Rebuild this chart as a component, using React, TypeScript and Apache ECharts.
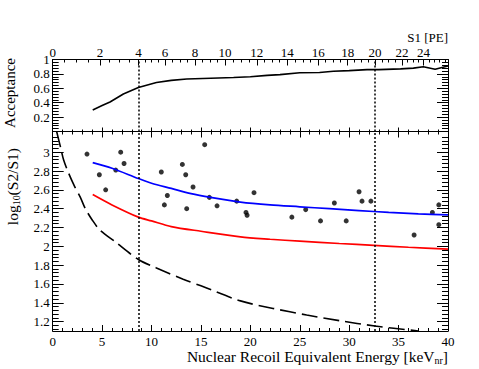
import React, { useEffect, useRef } from 'react';
import * as echarts from 'echarts';

// ---- data (energies in keV_nr) ----
const thresholdsKeV = [8.67, 32.62];

const accEnergy = [4.05, 5, 5.8, 7.15, 8.67, 10.5, 12, 13.56, 16, 18.3, 20, 21.7, 23, 25, 27, 28.4, 30, 31.8, 33, 35.2, 36.5, 37.5, 38.7, 40];
const accValue = [0.30, 0.36, 0.41, 0.52, 0.61, 0.68, 0.71, 0.73, 0.74, 0.75, 0.76, 0.78, 0.79, 0.815, 0.82, 0.836, 0.845, 0.86, 0.86, 0.87, 0.88, 0.90, 0.865, 0.91];

const eventEnergy = [3.47, 6.88, 7.22, 4.72, 6.38, 5.36, 15.38, 13.12, 10.99, 13.46, 14.2, 11.6, 15.85, 11.3, 13.56, 16.63, 18.62, 20.37, 19.56, 19.67, 31.0, 31.3, 32.2, 28.5, 25.6, 24.2, 27.1, 29.7, 39.07, 38.42, 39.07, 36.57];
const eventLogRatio = [2.98, 3.00, 2.88, 2.76, 2.81, 2.60, 3.08, 2.87, 2.79, 2.76, 2.63, 2.54, 2.52, 2.44, 2.40, 2.43, 2.48, 2.57, 2.36, 2.33, 2.58, 2.48, 2.48, 2.46, 2.39, 2.31, 2.27, 2.27, 2.44, 2.36, 2.23, 2.12];

const blueEnergy = [4.05, 6, 8.67, 10, 12, 14, 16, 19, 22, 25, 28, 31, 34, 37, 40];
const blueValue = [2.89, 2.83, 2.72, 2.67, 2.615, 2.56, 2.52, 2.47, 2.44, 2.42, 2.40, 2.38, 2.36, 2.345, 2.335];

const redEnergy = [4.05, 6, 8.67, 10, 12, 15, 19, 22, 25, 29, 32.5, 36, 40];
const redValue = [2.55, 2.44, 2.31, 2.27, 2.21, 2.16, 2.10, 2.075, 2.055, 2.03, 2.01, 1.99, 1.97];

const dashEnergy = [0.4, 0.8, 1.1, 1.6, 2.2, 2.8, 3.3, 4.0, 4.8, 6.3, 8.67, 10.5, 13.2, 15, 19, 22.3, 25.7, 29, 32.6, 37];
const dashValue = [3.22, 3.05, 2.92, 2.78, 2.64, 2.52, 2.40, 2.28, 2.17, 2.05, 1.86, 1.77, 1.65, 1.58, 1.42, 1.34, 1.27, 1.21, 1.153, 1.10];

// top axis: S1 [PE] tick labels and their energy positions
const s1TickLabels = ['0', '2', '4', '6', '8', '10', '12', '14', '16', '18', '20', '22', '24'];
const s1TickEnergies = [0, 4.79, 8.67, 11.37, 14.4, 17.44, 20.66, 23.74, 26.87, 29.85, 32.62, 35.35, 37.53];

// tick labels
const energyTickValues = [0, 5, 10, 15, 20, 25, 30, 35, 40];
const accTickValues = [0.2, 0.4, 0.6, 0.8, 1];
const logTickValues = [1.2, 1.4, 1.6, 1.8, 2, 2.2, 2.4, 2.6, 2.8, 3];

// ---- axis decoration (minor tick positions) ----
const s1Minor: number[] = [];
for (let i = 0; i < s1TickEnergies.length - 1; i++) {
  const a = s1TickEnergies[i], b = s1TickEnergies[i + 1];
  for (const t of [0.25, 0.5, 0.75]) s1Minor.push(a + (b - a) * t);
}
{
  const last = s1TickEnergies[s1TickEnergies.length - 1];
  const step = (last - s1TickEnergies[s1TickEnergies.length - 2]) / 4;
  for (let k = 1; k <= 4; k++) if (last + step * k < 40) s1Minor.push(last + step * k);
}
const energyMinor: number[] = [];
for (let k = 1; k < 40; k++) if (k % 5 !== 0) energyMinor.push(k);
const accMinor: number[] = [];
for (let k = 1; k < 25; k++) if (k % 5 !== 0) accMinor.push(+(k * 0.04).toFixed(2));
const logMinor: number[] = [];
for (let k = 28; k <= 80; k++) if (k % 5 !== 0) logMinor.push(+(k * 0.04).toFixed(2));

const FONT = 'Liberation Serif';
const lab = { color: '#000', fontFamily: FONT, fontSize: 13, fontWeight: 'normal' };
const line = { show: true, onZero: false, lineStyle: { color: '#000', width: 1 } };
const noLine = { show: false, onZero: false };
const tickStyle = { color: '#000', width: 1 };
const Y2MIN = 1.1, Y2MAX = 3.22;

const zip = (a: number[], b: number[]) => a.map((v, i) => [v, b[i]]);

function xAx(grid: number, pos: string, ticks: number[], len: number, showLine: boolean, label?: any) {
  return {
    type: 'value', gridIndex: grid, position: pos, min: 0, max: 40,
    splitLine: { show: false }, axisLine: showLine ? line : noLine,
    axisLabel: label ? { ...lab, ...label } : { show: false },
    axisTick: { show: true, inside: true, length: len, customValues: ticks, lineStyle: tickStyle },
  };
}
function yAx(grid: number, pos: string, min: number, max: number, ticks: number[], len: number, showLine: boolean, label?: any) {
  return {
    type: 'value', gridIndex: grid, position: pos, min, max,
    splitLine: { show: false }, axisLine: showLine ? line : noLine,
    axisLabel: label ? { ...lab, ...label } : { show: false },
    axisTick: { show: true, inside: true, length: len, customValues: ticks, lineStyle: tickStyle },
  };
}

function buildOption(): any {
  return {
    animation: false,
    backgroundColor: '#fff',
    textStyle: { fontFamily: FONT, color: '#000' },
    grid: [
      { left: 52.7, top: 59.5, width: 395.3, height: 72, outerBoundsMode: 'none' },
      { left: 52.7, top: 131.5, width: 395.3, height: 199.5, outerBoundsMode: 'none' },
    ],
    xAxis: [
      xAx(0, 'bottom', energyTickValues, 4, true),
      xAx(0, 'bottom', energyMinor, 2, false),
      xAx(0, 'top', s1TickEnergies, 6, true, {
        margin: 1, customValues: s1TickEnergies,
        formatter: (v: number) => {
          const i = s1TickEnergies.findIndex((e) => Math.abs(e - v) < 1e-6);
          return i >= 0 ? s1TickLabels[i] : '';
        },
      }),
      xAx(0, 'top', s1Minor, 3, false),
      xAx(1, 'bottom', energyTickValues, 6, true, { margin: 4, customValues: energyTickValues }),
      xAx(1, 'bottom', energyMinor, 3, false),
      xAx(1, 'top', energyTickValues, 6, true),
      xAx(1, 'top', energyMinor, 3, false),
    ],
    yAxis: [
      yAx(0, 'left', 0, 1, accTickValues, 11, true, { margin: 3, customValues: accTickValues }),
      yAx(0, 'left', 0, 1, accMinor, 6, false),
      yAx(0, 'right', 0, 1, accTickValues, 11, true),
      yAx(0, 'right', 0, 1, accMinor, 6, false),
      yAx(1, 'left', Y2MIN, Y2MAX, logTickValues, 11, true, { margin: 3, customValues: logTickValues }),
      yAx(1, 'left', Y2MIN, Y2MAX, logMinor, 6, false),
      yAx(1, 'right', Y2MIN, Y2MAX, logTickValues, 11, true),
      yAx(1, 'right', Y2MIN, Y2MAX, logMinor, 6, false),
    ],
    series: [
      { type: 'line', xAxisIndex: 0, yAxisIndex: 0, data: zip(accEnergy, accValue), symbol: 'none',
        lineStyle: { color: '#000', width: 1.6 },
        markLine: { silent: true, symbol: ['none', 'none'], label: { show: false },
          lineStyle: { color: '#000', type: [2, 2], width: 1.5 },
          data: thresholdsKeV.map((x) => ({ xAxis: x })) } },
      { type: 'line', xAxisIndex: 4, yAxisIndex: 4, data: zip(dashEnergy, dashValue), symbol: 'none', smooth: 0.3,
        lineStyle: { color: '#000', width: 1.6, type: [16, 6] },
        markLine: { silent: true, symbol: ['none', 'none'], label: { show: false },
          lineStyle: { color: '#000', type: [2, 2], width: 1.5 },
          data: thresholdsKeV.map((x) => ({ xAxis: x })) } },
      { type: 'line', xAxisIndex: 4, yAxisIndex: 4, data: zip(redEnergy, redValue), symbol: 'none', smooth: 0.3,
        lineStyle: { color: '#ff0000', width: 1.7 } },
      { type: 'line', xAxisIndex: 4, yAxisIndex: 4, data: zip(blueEnergy, blueValue), symbol: 'none', smooth: 0.3,
        lineStyle: { color: '#0000ff', width: 1.7 } },
      { type: 'scatter', xAxisIndex: 4, yAxisIndex: 4, data: zip(eventEnergy, eventLogRatio), symbol: 'circle', symbolSize: 5,
        itemStyle: { color: '#000' } },
    ],
    graphic: [
      { type: 'text', x: 448, y: 37,
        style: { text: 'S1 [PE]', fill: '#000', fontFamily: FONT, fontSize: 13, align: 'right', verticalAlign: 'middle', textAlign: 'right', textVerticalAlign: 'middle' } },
      { type: 'text', x: 448, y: 356,
        style: { text: '{a|Nuclear Recoil Equivalent Energy [keV}{s|nr}{a|]}', align: 'right', verticalAlign: 'middle', textAlign: 'right', textVerticalAlign: 'middle',
          rich: { a: { fontFamily: FONT, fontSize: 15.5, fill: '#000', color: '#000', lineHeight: 19 },
                  s: { fontFamily: FONT, fontSize: 10, fill: '#000', color: '#000', verticalAlign: 'bottom', lineHeight: 11 } } } },
      { type: 'text', x: 10, y: 58, rotation: Math.PI / 2,
        style: { text: 'Acceptance', fill: '#000', fontFamily: FONT, fontSize: 15, align: 'right', verticalAlign: 'middle', textAlign: 'right', textVerticalAlign: 'middle' } },
      { type: 'text', x: 12, y: 148, rotation: Math.PI / 2,
        style: { text: '{a|log}{s|10}{a|(S2/S1)}', align: 'right', verticalAlign: 'middle', textAlign: 'right', textVerticalAlign: 'middle',
          rich: { a: { fontFamily: FONT, fontSize: 15.5, fill: '#000', color: '#000', lineHeight: 19 },
                  s: { fontFamily: FONT, fontSize: 10, fill: '#000', color: '#000', verticalAlign: 'bottom', lineHeight: 11 } } } },
    ],
  };
}

export default function App() {
  const ref = useRef<HTMLDivElement>(null);
  useEffect(() => {
    const chart = echarts.init(ref.current!, null, { renderer: 'svg' });
    chart.setOption(buildOption());
    return () => chart.dispose();
  }, []);
  return <div ref={ref} style={{ position: 'fixed', left: 0, top: 0, width: 479, height: 369, background: '#fff' }} />;
}
